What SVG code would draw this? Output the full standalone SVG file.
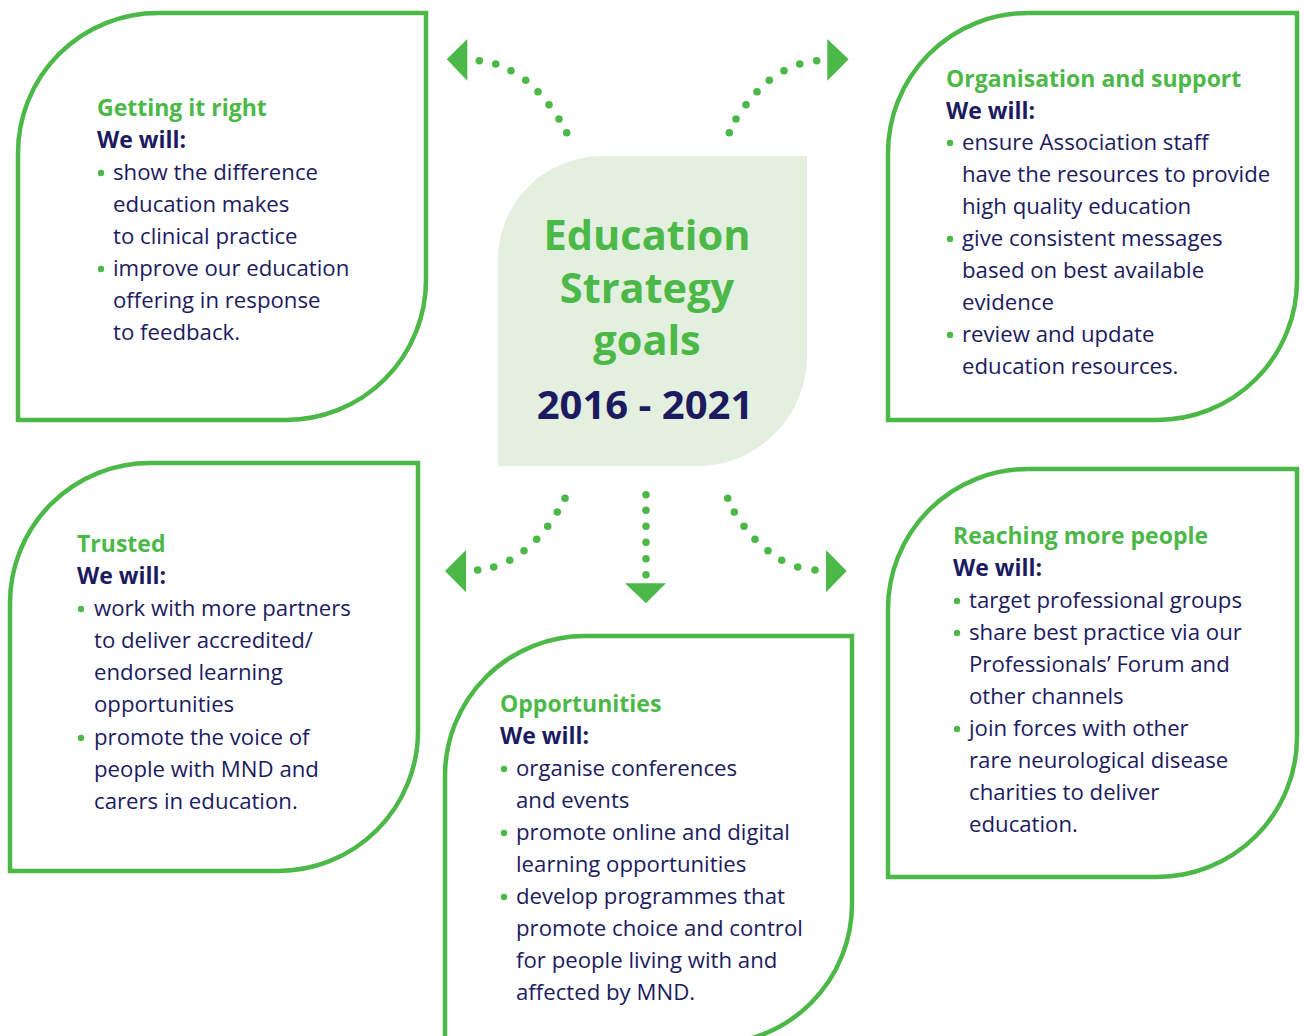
<svg xmlns="http://www.w3.org/2000/svg" width="1304" height="1036" viewBox="0 0 1304 1036">
<defs>
<style>
.box{fill:#ffffff;stroke:#4cb848;stroke-width:4.5}
.ctr{fill:#e3efdf}
.t{font-family:"Open Sans","Noto Sans",sans-serif;font-size:22.2px;fill:#1c1b5f}
.h{font-family:"Open Sans","Noto Sans",sans-serif;font-size:23px;font-weight:bold;fill:#4cb848}
.w{font-family:"Open Sans","Noto Sans",sans-serif;font-size:23px;font-weight:bold;fill:#1c1b5f}
.b{fill:#4cb848}
.dot{fill:#4cb848}
.big{font-family:"Open Sans","Noto Sans",sans-serif;font-weight:bold;font-size:41.5px;fill:#4cb848;text-anchor:middle}
.yr{font-family:"Open Sans","Noto Sans",sans-serif;font-weight:bold;font-size:40px;fill:#1c1b5f;text-anchor:middle}
</style>
<circle id="d" r="3.8" class="dot"/>
</defs>
<rect width="1304" height="1036" fill="#ffffff"/>

<g id="center">
<path class="ctr" d="M498,260 A104,104 0 0 1 602,156 L807,156 L807,356 A110,110 0 0 1 697,466 L498,466 Z"/>
<text class="big" x="647" y="250">Education</text>
<text class="big" x="647" y="303">Strategy</text>
<text class="big" x="647" y="355">goals</text>
<text class="yr" x="645" y="419">2016 - 2021</text>
</g>

<g id="connectors">
<g id="arrow-tl">
<polygon class="dot" points="446.7,59.3 467.3,39 467.3,80.7"/>
<use href="#d" x="479.3" y="60.7"/><use href="#d" x="495.7" y="64"/><use href="#d" x="511" y="70.7"/><use href="#d" x="525.7" y="80.3"/><use href="#d" x="538" y="91.7"/><use href="#d" x="549" y="104.7"/><use href="#d" x="559" y="119"/><use href="#d" x="566.7" y="132.7"/>
</g>
<g id="arrow-tr">
<polygon class="dot" points="848.7,59.3 827.3,39 827.3,80.7"/>
<use href="#d" x="816.7" y="60.7"/><use href="#d" x="799.7" y="64"/><use href="#d" x="784" y="70.7"/><use href="#d" x="769.3" y="80.3"/><use href="#d" x="757" y="91.7"/><use href="#d" x="746" y="104.7"/><use href="#d" x="736" y="119"/><use href="#d" x="729.3" y="132.7"/>
</g>
<g id="arrow-bl">
<polygon class="dot" points="445,571 466,550 466,592.3"/>
<use href="#d" x="477.7" y="570"/><use href="#d" x="493.7" y="567"/><use href="#d" x="509.7" y="560.3"/><use href="#d" x="524" y="550.7"/><use href="#d" x="536.7" y="539.3"/><use href="#d" x="547.7" y="526.3"/><use href="#d" x="557.3" y="512"/><use href="#d" x="565" y="498.3"/>
</g>
<g id="arrow-b">
<polygon class="dot" points="625,583.3 666,583.3 646,603.3"/>
<use href="#d" x="646" y="494.7"/><use href="#d" x="646" y="510.3"/><use href="#d" x="646" y="526.3"/><use href="#d" x="646" y="542.3"/><use href="#d" x="646" y="558.7"/><use href="#d" x="646" y="574.7"/>
</g>
<g id="arrow-br">
<polygon class="dot" points="846.7,571 826,550 826,592.3"/>
<use href="#d" x="815" y="570"/><use href="#d" x="797.7" y="567"/><use href="#d" x="781.7" y="560.3"/><use href="#d" x="768" y="550.7"/><use href="#d" x="755" y="539.3"/><use href="#d" x="744" y="526.3"/><use href="#d" x="734.3" y="512"/><use href="#d" x="727.7" y="498.3"/>
</g>
</g>

<g id="getting-it-right">
<path class="box" d="M18,420 L18,153 A140,140 0 0 1 158,13 L426,13 L426,280 A140,140 0 0 1 286,420 Z"/>
<text class="h" x="97" y="116">Getting it right</text>
<text class="w" x="97" y="148">We will:</text>
<circle class="b" cx="101" cy="173" r="3.2"/>
<text class="t" x="113" y="180">show the difference</text>
<text class="t" x="113" y="212">education makes</text>
<text class="t" x="113" y="244">to clinical practice</text>
<circle class="b" cx="101" cy="269" r="3.2"/>
<text class="t" x="113" y="276">improve our education</text>
<text class="t" x="113" y="308">offering in response</text>
<text class="t" x="113" y="340">to feedback.</text>
</g>

<g id="organisation-and-support">
<path class="box" d="M888,420 L888,153 A140,140 0 0 1 1028,13 L1297,13 L1297,280 A140,140 0 0 1 1157,420 Z"/>
<text class="h" x="946" y="87">Organisation and support</text>
<text class="w" x="946" y="119">We will:</text>
<circle class="b" cx="950" cy="143" r="3.2"/>
<text class="t" x="962" y="150">ensure Association staff</text>
<text class="t" x="962" y="182">have the resources to provide</text>
<text class="t" x="962" y="214">high quality education</text>
<circle class="b" cx="950" cy="239" r="3.2"/>
<text class="t" x="962" y="246">give consistent messages</text>
<text class="t" x="962" y="278">based on best available</text>
<text class="t" x="962" y="310">evidence</text>
<circle class="b" cx="950" cy="335" r="3.2"/>
<text class="t" x="962" y="342">review and update</text>
<text class="t" x="962" y="374">education resources.</text>
</g>

<g id="trusted">
<path class="box" d="M10,871 L10,603 A140,140 0 0 1 150,463 L418,463 L418,731 A140,140 0 0 1 278,871 Z"/>
<text class="h" x="77" y="552">Trusted</text>
<text class="w" x="77" y="584">We will:</text>
<circle class="b" cx="81" cy="609" r="3.2"/>
<text class="t" x="94" y="616">work with more partners</text>
<text class="t" x="94" y="648">to deliver accredited/</text>
<text class="t" x="94" y="680">endorsed learning</text>
<text class="t" x="94" y="712">opportunities</text>
<circle class="b" cx="81" cy="738" r="3.2"/>
<text class="t" x="94" y="745">promote the voice of</text>
<text class="t" x="94" y="777">people with MND and</text>
<text class="t" x="94" y="809">carers in education.</text>
</g>

<g id="opportunities">
<path class="box" d="M445,1044 L445,776 A140,140 0 0 1 585,636 L852,636 L852,904 A140,140 0 0 1 712,1044 Z"/>
<text class="h" x="500" y="712">Opportunities</text>
<text class="w" x="500" y="744">We will:</text>
<circle class="b" cx="504" cy="769" r="3.2"/>
<text class="t" x="516" y="776">organise conferences</text>
<text class="t" x="516" y="808">and events</text>
<circle class="b" cx="504" cy="833" r="3.2"/>
<text class="t" x="516" y="840">promote online and digital</text>
<text class="t" x="516" y="872">learning opportunities</text>
<circle class="b" cx="504" cy="897" r="3.2"/>
<text class="t" x="516" y="904">develop programmes that</text>
<text class="t" x="516" y="936">promote choice and control</text>
<text class="t" x="516" y="968">for people living with and</text>
<text class="t" x="516" y="1000">affected by MND.</text>
</g>

<g id="reaching-more-people">
<path class="box" d="M888,877 L888,609 A140,140 0 0 1 1028,469 L1297,469 L1297,737 A140,140 0 0 1 1157,877 Z"/>
<text class="h" x="953" y="544">Reaching more people</text>
<text class="w" x="953" y="576">We will:</text>
<circle class="b" cx="957" cy="601" r="3.2"/>
<text class="t" x="969" y="608">target professional groups</text>
<circle class="b" cx="957" cy="633" r="3.2"/>
<text class="t" x="969" y="640">share best practice via our</text>
<text class="t" x="969" y="672">Professionals’ Forum and</text>
<text class="t" x="969" y="704">other channels</text>
<circle class="b" cx="957" cy="729" r="3.2"/>
<text class="t" x="969" y="736">join forces with other</text>
<text class="t" x="969" y="768">rare neurological disease</text>
<text class="t" x="969" y="800">charities to deliver</text>
<text class="t" x="969" y="832">education.</text>
</g>
</svg>
